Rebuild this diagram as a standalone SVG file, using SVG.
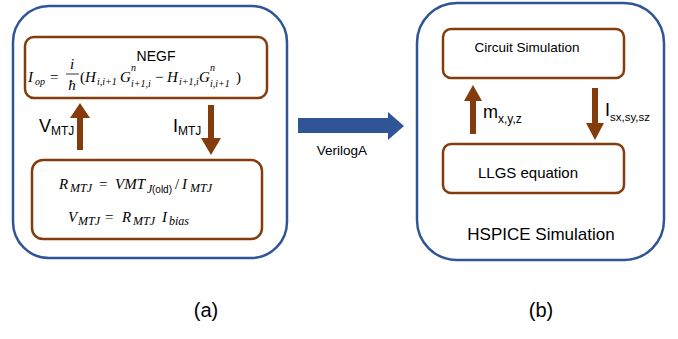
<svg xmlns="http://www.w3.org/2000/svg" width="678" height="339" viewBox="0 0 678 339">
<style>
.outer{fill:#fff;stroke:#2F5597;stroke-width:2.5}
.inner{fill:#fff;stroke:#843C0C;stroke-width:2.5}
.t{font-family:"Liberation Sans",Arial,sans-serif;fill:#000}
.m{font-family:"Liberation Serif","Times New Roman",serif;font-style:italic;fill:#000;font-size:15px}
.s{font-family:"Liberation Serif","Times New Roman",serif;font-style:italic;fill:#000;font-size:10px}
.s2{font-family:"Liberation Serif","Times New Roman",serif;font-style:italic;fill:#000;font-size:12px}
.n{font-family:"Liberation Serif","Times New Roman",serif;fill:#000;font-size:15px}
.br{fill:#843C0C}
</style>
<rect width="678" height="339" fill="#fff"/>
<g id="panel-a">
<rect class="outer" x="13" y="6" width="274" height="252" rx="36"/>
</g>
<g id="panel-b">
<rect class="outer" x="417" y="3" width="247" height="257" rx="40"/>
<text class="t" x="541" y="240" font-size="17" text-anchor="middle">HSPICE Simulation</text>
</g>
<g id="negf">
<rect class="inner" x="25" y="37" width="242" height="61" rx="9"/>
<text class="t" x="156" y="61" font-size="14" text-anchor="middle">NEGF</text>
<text class="m" x="28" y="82">I</text>
<text class="s" x="35" y="85">op</text>
<text class="n" x="50" y="82">=</text>
<text class="m" x="72" y="69" text-anchor="middle">i</text>
<line x1="66" y1="74" x2="79" y2="74" stroke="#000" stroke-width="0.8"/>
<text class="m" x="72" y="90" text-anchor="middle">ħ</text>
<text class="n" x="80" y="82">(</text>
<text class="m" x="85" y="82">H</text>
<text class="s" x="97" y="85">i,i+1</text>
<text class="m" x="120" y="82">G</text>
<text class="s" x="131" y="71">n</text>
<text class="s" x="131" y="87">i+1,i</text>
<text class="n" x="155" y="82">−</text>
<text class="m" x="167" y="82">H</text>
<text class="s" x="179" y="85">i+1,i</text>
<text class="m" x="199" y="82">G</text>
<text class="s" x="210" y="71">n</text>
<text class="s" x="210" y="87">i,i+1</text>
<text class="n" x="236" y="82">)</text>
</g>
<g id="mtj">
<rect class="inner" x="32" y="160" width="230" height="79" rx="11"/>
<text class="m" x="59" y="189" font-size="17">R</text>
<text class="s2" x="70" y="192">MTJ</text>
<text class="n" x="99" y="189" font-size="17">=</text>
<text class="m" x="115" y="189" font-size="17">VMT</text>
<text class="s2" x="147" y="193">J</text>
<text class="t" x="152" y="193" font-size="10">(old)</text>
<text class="n" x="175" y="189" font-size="17">/</text>
<text class="m" x="182" y="189" font-size="17">I</text>
<text class="s2" x="190" y="192">MTJ</text>
<text class="m" x="68" y="222" font-size="17">V</text>
<text class="s2" x="78" y="225">MTJ</text>
<text class="n" x="105" y="222" font-size="17">=</text>
<text class="m" x="122" y="222" font-size="17">R</text>
<text class="s2" x="133" y="225">MTJ</text>
<text class="m" x="162" y="222" font-size="17">I</text>
<text class="s2" x="169" y="225" font-size="12.5">bias</text>
</g>
<g id="circuit">
<rect class="inner" x="443" y="29" width="181" height="49" rx="8"/>
<text class="t" x="527" y="52" font-size="13.5" text-anchor="middle">Circuit Simulation</text>
</g>
<g id="llgs">
<rect class="inner" x="443" y="144" width="181" height="49" rx="8"/>
<text class="t" x="528" y="178" font-size="15" text-anchor="middle">LLGS equation</text>
</g>
<g id="connectors">
<polygon class="br" points="77,150 83,150 83,118 90,118 80,103 70,118 77,118"/>
<polygon class="br" points="208,105 214,105 214,138 221,138 211,155 201,138 208,138"/>
<polygon class="br" points="470,134 476,134 476,101 482,101 473,85 464,101 470,101"/>
<polygon class="br" points="592,88 598,88 598,123 604,123 595,140 586,123 592,123"/>
<polygon fill="#2F5597" points="298,118 388,118 388,112 404,126 388,140 388,133 298,133"/>
<text class="t" x="342" y="155" font-size="13.5" text-anchor="middle">VerilogA</text>
<text class="t" x="39" y="132" font-size="18">V<tspan font-size="12" dy="3">MTJ</tspan></text>
<text class="t" x="173" y="132" font-size="18">I<tspan font-size="12" dy="3">MTJ</tspan></text>
<text class="t" x="483" y="118" font-size="18">m<tspan font-size="12" dy="5">x,y,z</tspan></text>
<text class="t" x="605" y="116" font-size="18">I<tspan font-size="11.5" dy="5">sx,sy,sz</tspan></text>
</g>
<text class="t" x="206" y="317" font-size="20" text-anchor="middle">(a)</text>
<text class="t" x="541" y="317" font-size="20" text-anchor="middle">(b)</text>
</svg>
